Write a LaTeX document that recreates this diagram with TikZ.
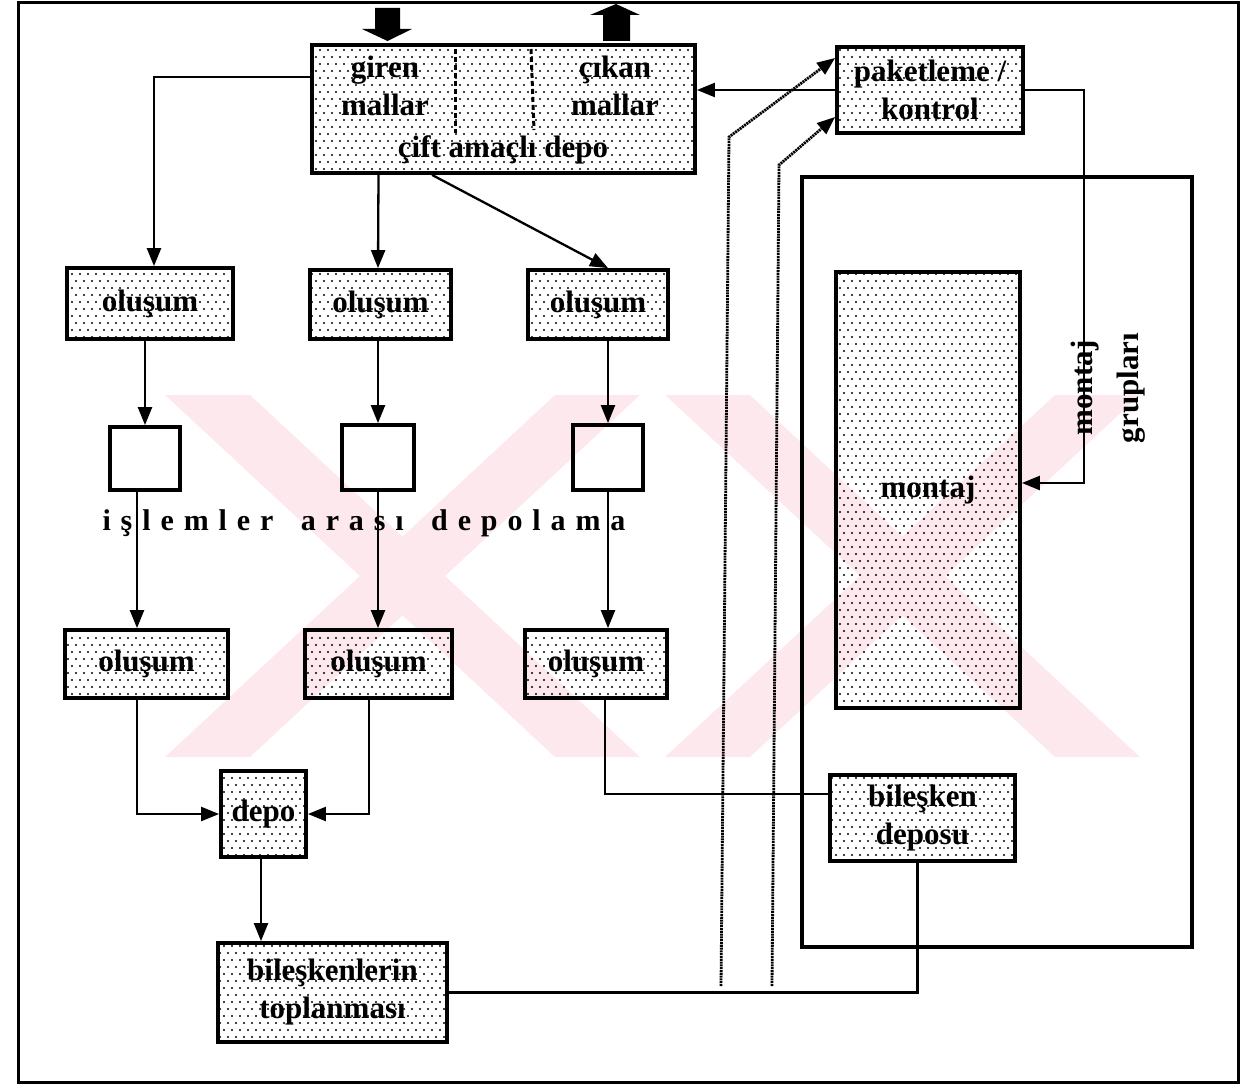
\documentclass[tikz,border=0pt]{standalone}
\usepackage{fontspec}
\setmainfont{Liberation Serif}
\newfontfamily\spacedfont[LetterSpace=33]{Liberation Serif}
\usetikzlibrary{arrows.meta,patterns}
\pgfdeclarepatternformonly{sparsedots}{\pgfqpoint{-1.5pt}{-1.5pt}}{\pgfqpoint{9.5pt}{15.5pt}}{\pgfqpoint{8pt}{14pt}}{%
  \pgfpathcircle{\pgfqpoint{0pt}{0pt}}{1.1pt}%
  \pgfpathcircle{\pgfqpoint{4pt}{7pt}}{1.1pt}%
  \pgfusepath{fill}}
\newcommand\lbl{\bfseries\fontsize{31}{38}\selectfont}
\newcommand\rotlbl{\bfseries\fontsize{31}{46}\selectfont}
\newcommand\spc{\spacedfont\bfseries\fontsize{30}{36}\selectfont}
\definecolor{wmpink}{RGB}{253,233,237}
\begin{document}
\begin{tikzpicture}[x=1pt,y=-1pt,
  box/.style={draw,line width=3.8pt,pattern=sparsedots,inner sep=0pt,align=center,font=\lbl},
  emptybox/.style={draw,line width=3.8pt,inner sep=0pt},
  frame/.style={draw,line width=3.8pt,inner sep=0pt},
  txt/.style={inner sep=0pt,align=center,font=\lbl},
  ln/.style={line width=2.3pt},
  arr/.style={line width=2.3pt,-{Triangle[length=18pt,width=14pt]}},
  dotarr/.style={line width=2.8pt,dash pattern=on 2pt off 0.8pt,-{Triangle[length=18pt,width=14pt]}},
  wm/.style={fill=wmpink},
  blockarrow/.style={fill=black}]
\useasboundingbox (0,0) rectangle (1245,1086);
% watermark
\fill[wm] (165,395)--(250,395)--(640,757)--(555,757)--cycle;
\fill[wm] (555,395)--(640,395)--(250,757)--(165,757)--cycle;
\fill[wm] (665,395)--(750,395)--(1140,757)--(1055,757)--cycle;
\fill[wm] (1055,395)--(1140,395)--(750,757)--(665,757)--cycle;
% outer frame
\draw[line width=3pt] (18,3) rectangle (1238,1082);
% block arrows at top
\fill[blockarrow] (375,8)--(400,8)--(400,29)--(412,29)--(387.5,41)--(362,29)--(375,29)--cycle;
\fill[blockarrow] (603,41)--(630,41)--(630,15)--(640,15)--(616,4)--(590,15)--(603,15)--cycle;
% boxes
\node[box,minimum width=383pt,minimum height=128pt] (dep) at (503.5,109) {};
\draw[line width=3pt,dash pattern=on 5pt off 3pt] (455,49) -- (455,133);
\draw[line width=3pt,dash pattern=on 5pt off 3pt] (531,49) -- (534,130);
\node[txt] (gm) at (385,86) {giren\\mallar};
\node[txt] (cm) at (615,86) {çıkan\\mallar};
\node[txt,anchor=base] (cad) at (503,158) {çift amaçlı depo};
\node[box,minimum width=186pt,minimum height=86pt] (pk) at (930,90) {paketleme /\\kontrol};
\node[box,minimum width=166pt,minimum height=71pt] (o1) at (150,303.5) {oluşum};
\node[box,minimum width=141pt,minimum height=69pt] (o2) at (380.5,304.5) {oluşum};
\node[box,minimum width=140pt,minimum height=69pt] (o3) at (598,304.5) {oluşum};
\node[emptybox,minimum width=70pt,minimum height=63pt] (s1) at (145,458.5) {};
\node[emptybox,minimum width=72pt,minimum height=65pt] (s2) at (378,457.5) {};
\node[emptybox,minimum width=70pt,minimum height=65pt] (s3) at (608,457.5) {};
\node[inner sep=0pt,font=\spc] (ia) at (364,523) {işlemler\hspace{10pt} arası\hspace{10pt} depolama};
\node[box,minimum width=163pt,minimum height=68pt] (p1) at (146.5,664) {oluşum};
\node[box,minimum width=147pt,minimum height=68pt] (p2) at (378.5,664) {oluşum};
\node[box,minimum width=142pt,minimum height=68pt] (p3) at (596,664) {oluşum};
\node[box,minimum width=85pt,minimum height=86pt] (dp) at (263.5,814) {depo};
\node[box,minimum width=229pt,minimum height=99pt] (bt) at (332.5,992.5) {bileşkenlerin\\toplanması};
\node[frame,minimum width=390pt,minimum height=770pt] (mg) at (997,562) {};
\node[box,minimum width=184pt,minimum height=436pt] (mt) at (928,490) {montaj};
\node[box,minimum width=185pt,minimum height=86pt] (bd) at (922.5,818) {bileşken\\deposu};
\node[inner sep=0pt,align=center,font=\rotlbl,rotate=90] (mgl) at (1108,388) {montaj\\grupları};
% connectors
\draw[arr] (pk.west) -- (pk.west -| dep.east);
\draw[arr] ([yshift=32pt]dep.west) -| ([xshift=4pt]o1.north);
\draw[arr] ([xshift=-125pt]dep.south) -- ([xshift=-2.5pt]o2.north);
\draw[arr] ([xshift=-71.5pt]dep.south) -- ([xshift=10pt]o3.north);
\draw[arr] (o1.south -| s1.north) -- (s1.north);
\draw[arr] (o2.south -| s2.north) -- (s2.north);
\draw[arr] (o3.south -| s3.north) -- (s3.north);
\draw[arr] ([xshift=-8pt]s1.south) -- ([xshift=-8pt]s1.south |- p1.north);
\draw[arr] (s2.south) -- (s2.south |- p2.north);
\draw[arr] (s3.south) -- (s3.south |- p3.north);
\draw[arr] ([xshift=-9.5pt]p1.south) |- (dp.west);
\draw[arr] ([xshift=-9.5pt]p2.south) |- (dp.east);
\draw[arr] ([xshift=-2.5pt]dp.south) -- ([xshift=-2.5pt]dp.south |- bt.north);
\draw[ln] (bt.east) -| ([xshift=-5pt]bd.south);
\draw[ln] ([xshift=9pt]p3.south) |- ([yshift=24pt]bd.west);
\draw[arr] (pk.east) -- ++(59,0) |- ([yshift=7pt]mt.east);
\coordinate (d1b) at (721,986);
\coordinate (d1t) at (729,137);
\coordinate (d2b) at (772,986);
\coordinate (d2t) at (779,165);
\draw[dotarr] (d1b) -- (d1t) -- ([yshift=32pt]pk.west);
\draw[dotarr] (d2b) -- (d2t) -- ([yshift=-27pt]pk.west);
\end{tikzpicture}
\end{document}
